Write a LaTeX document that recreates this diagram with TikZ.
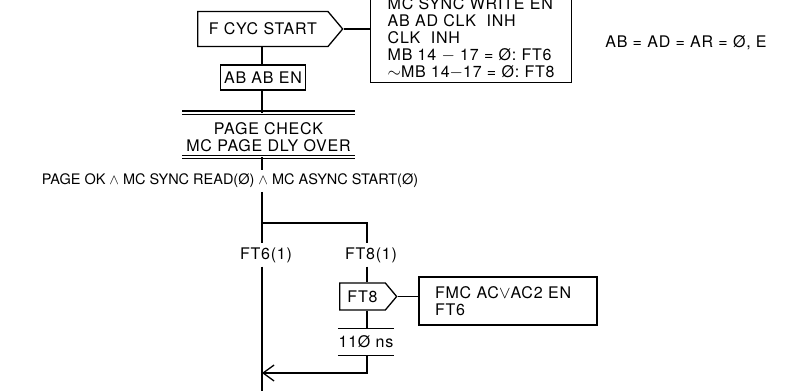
\documentclass[tikz,border=0pt]{standalone}
\usepackage{fontspec}
\setmainfont{TeX Gyre Heros}[LetterSpace=5]
\usetikzlibrary{shapes.symbols,arrows.meta}

\begin{document}
\begin{tikzpicture}[x=1pt,y=-1pt,line width=1.3pt,
	every node/.style={font=\fontsize{16}{17.2}\selectfont},
	sigbox/.style={draw, signal, signal to=east, signal pointer angle=100, inner sep=0pt, anchor=west},
	opbox/.style={draw, rectangle, inner sep=0pt},
	notebox/.style={draw, rectangle, align=left, inner ysep=3pt},
	bar/.style={double, double distance=2pt}]
	\useasboundingbox (0,0) rectangle (801,391);
	\clip (0,0) rectangle (801,391);

	% columns of the flow
	\coordinate (colA) at (262,0);
	\coordinate (colB) at (367,0);

	% start of cycle and its actions
	\node[sigbox, minimum width=145, minimum height=35] (fcyc) at (197,29) {F CYC START};
	\node[notebox, anchor=south west, inner xsep=17] (acts) at (370,83)
		{MC SYNC WRITE EN\\AB AD CLK\ \ INH\\CLK\ \ INH\\MB 14 \(-\) 17 = Ø: FT6\\\(\sim\)MB 14\(-\)17 = Ø: FT8};
	\node (absig) at (686,43) {AB = AD = AR = Ø, E};
	\node[opbox, minimum width=85, minimum height=25] (abab) at (263,77.5) {AB AB EN};

	% page check, with double bars above and below
	\node[align=center, minimum width=171, inner sep=0pt, anchor=north] (chk) at (268.5,112.5)
		{\rule{0pt}{21pt}PAGE CHECK\\MC PAGE DLY OVER\rule[-5pt]{0pt}{5pt}};
	\foreach \s in {north,south}
		\draw[bar] (chk.\s\space west) -- (chk.\s\space east);
	\node[font=\fontsize{14.5}{17}\selectfont\addfontfeature{LetterSpace=0}] (cond) at (230,181)
		{PAGE OK \(\wedge\) MC SYNC READ(Ø) \(\wedge\) MC ASYNC START(Ø)};

	% two branches
	\node (ft6l) at (266,255) {FT6(1)};
	\node (ft8l) at (371,255) {FT8(1)};
	\coordinate (fork) at (262,223);
	\node[sigbox, minimum width=57, minimum height=27] (ft8) at (339,296.5) {FT8};
	\node[notebox, text width=146, inner xsep=16, minimum height=48] (fmc) at (508,301)
		{FMC AC\(\vee\)AC2 EN\\FT6};
	\node[minimum width=53, minimum height=26, inner sep=0pt] (dly) at (366,342) {11Ø ns};
	\foreach \s in {north,south}
		\draw (dly.\s\space west) -- (dly.\s\space east);
	\coordinate (ret) at (262,373);
	\coordinate (out) at (262,395);

	% connectors
	\draw (fcyc.east) -- (fcyc.east -| acts.west);
	\draw (fcyc.south -| colA) -- (abab.north -| colA);
	\draw (abab.south -| colA) -- (chk.north -| colA);
	\draw (chk.south -| colA) -- (cond.north -| colA);
	\draw (cond.south -| colA) -- (ft6l.north -| colA);
	\draw (fork) -| (ft8l.north -| colB);
	\draw (ft6l.south -| colA) -- (out);
	\draw (ft8l.south -| colB) -- (ft8.north -| colB);
	\draw (ft8.east) -- (ft8.east -| fmc.west);
	\draw (ft8.south -| colB) -- (dly.north -| colB);
	\draw[-{Straight Barb[length=11pt,width=16pt]}] (dly.south -| colB) |- (ret);
\end{tikzpicture}
\end{document}
